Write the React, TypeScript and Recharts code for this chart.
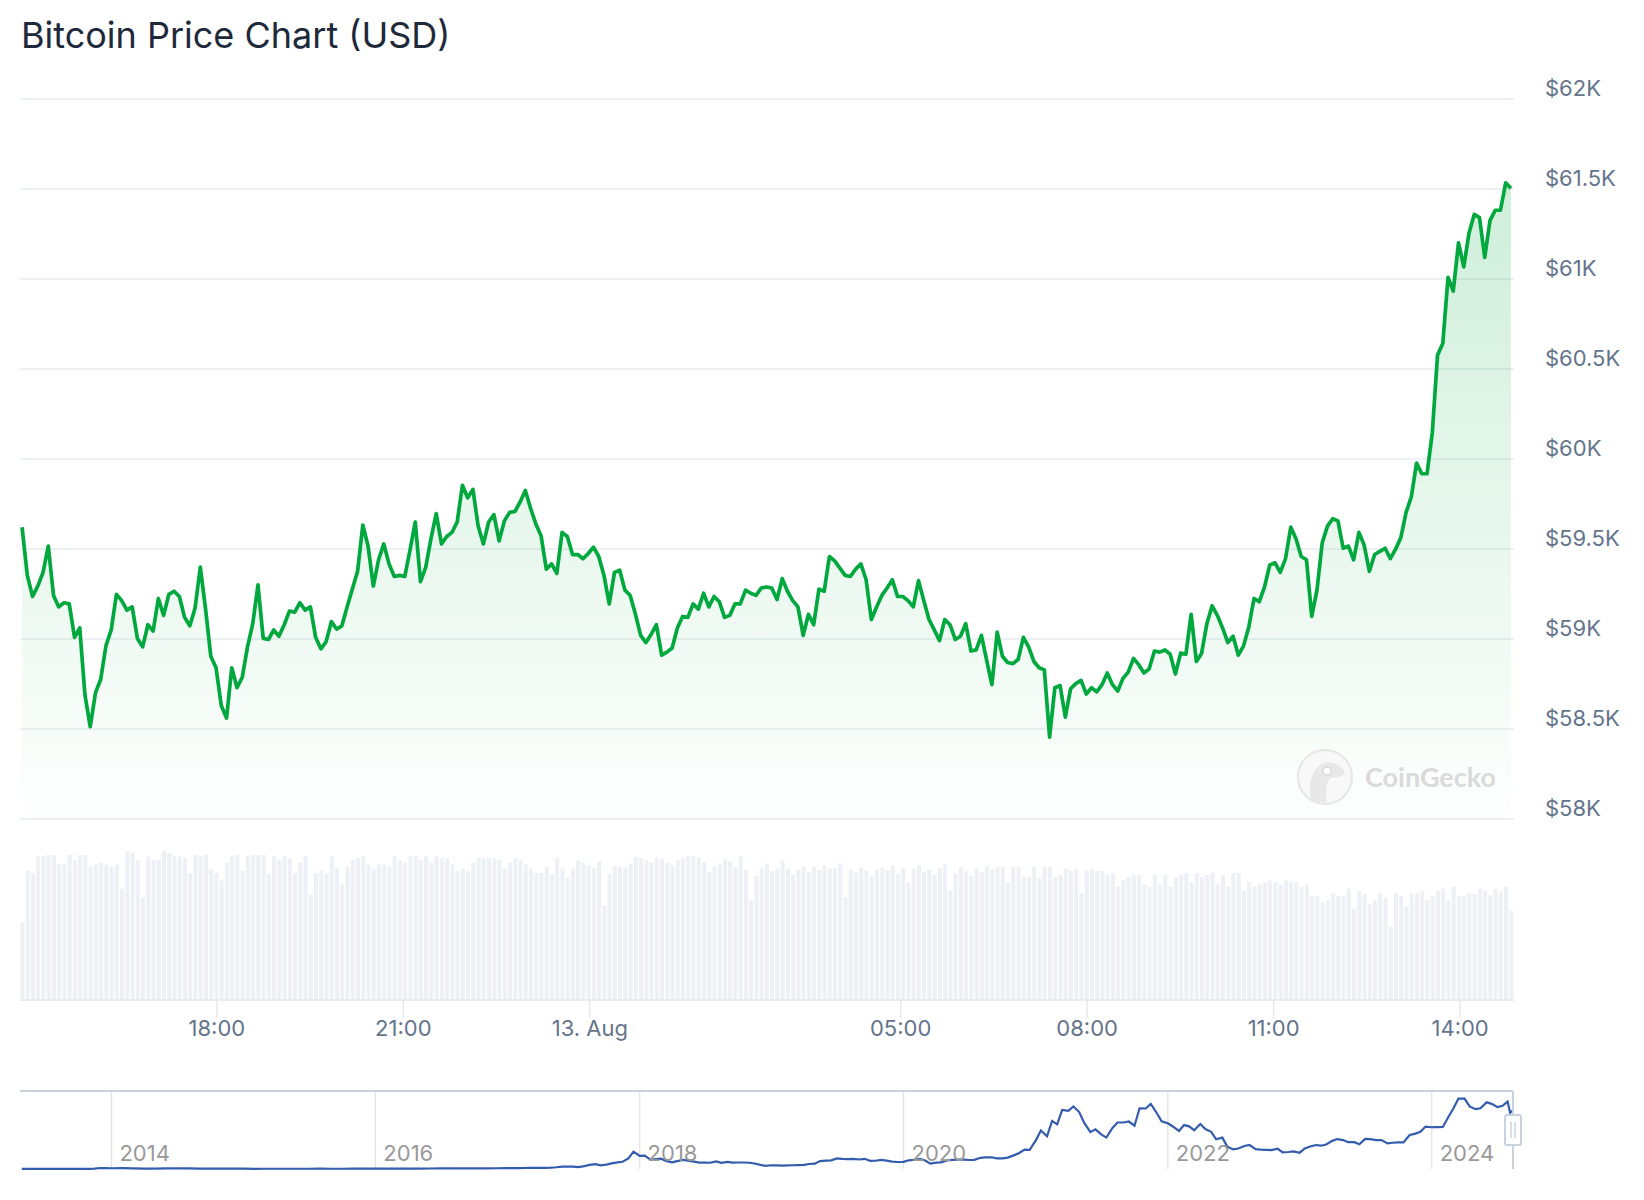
import React from "react";
import {
  Area,
  Bar,
  CartesianGrid,
  ComposedChart,
  Line,
  LineChart,
  ReferenceLine,
  XAxis,
  YAxis,
} from "recharts";

// 24h view, sampled every ~5 minutes starting 12 Aug 14:52 (minutes after 12 Aug 00:00)
const START_MIN = 892;
const STEP_MIN = 5.06;

const priceUsd = [
  59621, 59353, 59236, 59294, 59370, 59516, 59242, 59178, 59201, 59195,
  59009, 59061, 58688, 58513, 58700, 58776, 58962, 59050, 59248, 59213,
  59160, 59178, 59003, 58956, 59079, 59044, 59225, 59131, 59248, 59265,
  59236, 59120, 59073, 59172, 59399, 59166, 58904, 58840, 58630, 58560,
  58840, 58729, 58787, 58956, 59085, 59300, 59003, 58997, 59050, 59015,
  59079, 59155, 59149, 59201, 59160, 59178, 59009, 58945, 58985, 59096,
  59055, 59073, 59178, 59277, 59376, 59633, 59516, 59294, 59440, 59528,
  59417, 59347, 59353, 59347, 59493, 59650, 59318, 59399, 59557, 59697,
  59528, 59569, 59592, 59650, 59854, 59784, 59831, 59627, 59528, 59650,
  59691, 59545, 59656, 59703, 59708, 59761, 59825, 59726, 59639, 59574,
  59388, 59417, 59364, 59592, 59569, 59469, 59469, 59446, 59475, 59510,
  59458, 59353, 59195, 59370, 59382, 59271, 59242, 59137, 59020, 58980,
  59026, 59079, 58910, 58927, 58950, 59061, 59125, 59120, 59195, 59166,
  59254, 59178, 59236, 59207, 59120, 59131, 59195, 59195, 59271, 59254,
  59242, 59283, 59289, 59283, 59219, 59335, 59265, 59213, 59178, 59020,
  59137, 59079, 59277, 59265, 59458, 59434, 59394, 59353, 59347, 59388,
  59417, 59329, 59108, 59178, 59242, 59283, 59329, 59236, 59236, 59213,
  59178, 59324, 59213, 59108, 59050, 58991, 59108, 59079, 58997, 59015,
  59085, 58933, 58939, 59020, 58881, 58746, 59038, 58904, 58869, 58863,
  58886, 59009, 58956, 58875, 58840, 58828, 58455, 58729, 58741, 58566,
  58723, 58752, 58770, 58694, 58729, 58706, 58746, 58811, 58746, 58711,
  58781, 58816, 58892, 58857, 58811, 58834, 58933, 58927, 58939, 58915,
  58805, 58921, 58915, 59137, 58875, 58921, 59085, 59184, 59131, 59061,
  58980, 59015, 58910, 58962, 59067, 59225, 59207, 59289, 59411, 59423,
  59370, 59446, 59621, 59557, 59458, 59440, 59125, 59271, 59534, 59627,
  59668, 59656, 59504, 59516, 59440, 59592, 59522, 59376, 59469, 59487,
  59504, 59446, 59499, 59563, 59703, 59790, 59977, 59918, 59918, 60146,
  60577, 60641, 61009, 60933, 61201, 61067, 61254, 61359, 61341, 61120,
  61324, 61382, 61382, 61534, 61504,
];

// relative traded volume per sample
const volumeBars = [
  74, 123, 121, 137, 137, 138, 138, 129, 129, 138,
  133, 138, 138, 127, 129, 131, 129, 127, 129, 106,
  142, 140, 133, 97, 137, 133, 133, 142, 140, 137,
  137, 135, 121, 138, 137, 138, 125, 121, 114, 131,
  137, 138, 123, 137, 138, 138, 138, 120, 137, 133,
  137, 135, 121, 131, 137, 101, 121, 123, 121, 137,
  125, 110, 127, 133, 135, 137, 129, 125, 129, 129,
  127, 137, 133, 131, 137, 137, 133, 137, 131, 137,
  135, 135, 129, 123, 125, 123, 131, 135, 135, 135,
  135, 133, 125, 131, 135, 133, 129, 125, 121, 121,
  127, 120, 135, 125, 116, 125, 133, 131, 128, 126,
  132, 90, 120, 128,
  127, 126, 130, 136, 135, 133, 131, 135, 134, 131,
  128, 133, 135, 137, 137, 136, 131, 122, 127, 130,
  134, 132, 127, 137, 124, 95, 118, 126, 130, 123,
  125, 133, 125, 119, 124, 127, 122, 127, 124, 128,
  125, 126, 130, 98, 124, 121, 126, 123, 118, 124,
  126, 124, 128, 120, 126, 112, 125, 128, 122, 124,
  119, 126, 129, 104, 120, 127, 123, 118, 125, 122,
  127, 124,
  127, 127, 112, 127, 127, 117, 117, 127, 116, 127,
  127, 117, 119, 125, 123, 125, 102, 123, 125, 123,
  123, 119, 121, 108, 114, 117, 119, 119, 110, 108,
  119, 110, 119, 108, 117, 119, 121, 112, 121, 117,
  119, 121, 110, 119, 108, 121, 121, 104, 112, 108,
  110, 112, 114, 112, 110, 114, 112, 112, 108, 110,
  99, 99, 93, 95, 101, 99, 99, 106, 87, 104,
  101, 91, 95, 102, 97, 70, 102, 99, 89, 102,
  102, 104, 95, 99, 104, 106, 95, 108, 99, 99,
  102, 101, 106, 104, 100, 106, 103, 108, 85,
];

const priceTicks = [58000, 58500, 59000, 59500, 60000, 60500, 61000, 61500, 62000];
const timeTicks = [1080, 1260, 1440, 1740, 1920, 2100, 2280];
const timeLabels = ["18:00", "21:00", "13. Aug", "05:00", "08:00", "11:00", "14:00"];

// full history for the navigator
const navEarlyDates = [
  "2013-04-28", "2013-06-01", "2013-07-01", "2013-08-01", "2013-09-01", "2013-10-01",
  "2013-11-01", "2013-11-15", "2013-12-01", "2013-12-15",
  "2014-01-01", "2014-02-01", "2014-03-01", "2014-04-01", "2014-05-01", "2014-06-01",
  "2014-07-01", "2014-08-01", "2014-09-01", "2014-10-01", "2014-11-01", "2014-12-01",
  "2015-01-01", "2015-02-01", "2015-03-01", "2015-04-01", "2015-05-01", "2015-06-01",
  "2015-07-01", "2015-08-01", "2015-09-01", "2015-10-01", "2015-11-01", "2015-12-01",
  "2016-01-01", "2016-02-01", "2016-03-01", "2016-04-01", "2016-05-01", "2016-06-01",
  "2016-07-01", "2016-08-01", "2016-09-01", "2016-10-01", "2016-11-01", "2016-12-01",
];
const navEarlyPrices = [
  135, 128, 97, 105, 141, 133, 205, 430, 1000, 870,
  760, 830, 560, 470, 447, 630, 640, 590, 480, 390, 340, 380,
  320, 220, 255, 245, 235, 230, 260, 285, 230, 237, 315, 380,
  430, 370, 437, 416, 450, 530, 670, 625, 575, 610, 700, 745,
];
// 1st and 15th of every month, Jan 2017 - Jul 2024
const navSemiMonthlyPrices = [
  1000, 820, 970, 1010, 1190, 1250, 1080, 1180, 1420, 1750, 2400, 2450,
  2500, 1950, 2870, 4150, 4900, 3700, 4400, 5700, 6750, 7300, 10800, 17600,
  13400, 13600, 9200, 10100, 10400, 8200, 6800, 8000, 9200, 8500, 7500, 6500,
  6400, 6350, 7600, 6300, 7200, 6500, 6600, 6600, 6350, 5600, 4200, 3250,
  3800, 3600, 3450, 3600, 3800, 3900, 4100, 5050, 5350, 8000, 8550, 8800,
  10800, 10200, 10100, 10300, 9630, 10300, 8300, 8370, 9150, 8500, 7550, 7100,
  7200, 8800, 9350, 10300, 8600, 5400, 6400, 6650, 8800, 9300, 9500, 9450,
  9140, 9250, 11350, 11800, 11900, 10800, 10800, 11500, 13800, 16000, 19700, 19400,
  29000, 39000, 33100, 48700, 45200, 59800, 58800, 63300, 57700, 46700, 37300, 40100,
  35000, 31800, 41500, 47100, 47100, 48100, 43800, 61500, 61300, 66000, 57000, 48400,
  46300, 43100, 38500, 44500, 43200, 39300, 45500, 40500, 37700, 30100, 31800, 22500,
  19800, 20800, 23300, 24300, 20100, 19700, 19400, 19100, 20500, 16900, 17200, 17800,
  16500, 20900, 23100, 24300, 23600, 24800, 28500, 30300, 29300, 27200, 27200, 25000,
  30500, 30300, 29200, 29300, 25900, 26600, 27000, 27000, 34500, 35600, 37700, 43000,
  42300, 42500, 42600, 51900, 61200, 71400, 71300, 63400, 60600, 61500, 67500, 66000,
  62700, 64000,
];
const navTailDates = ["2024-07-29", "2024-08-05", "2024-08-13"];
const navTailPrices = [68300, 57000, 59400];
const navYearTicks = [2014, 2016, 2018, 2020, 2022, 2024];

const priceTable = priceUsd.map((price, i) => ({
  t: START_MIN + i * STEP_MIN,
  price,
  volume: volumeBars[i],
}));

const semiMonthlyDates = navSemiMonthlyPrices.map((_, i) => {
  const month = Math.floor(i / 2);
  return Date.UTC(2017 + Math.floor(month / 12), month % 12, i % 2 === 0 ? 1 : 15);
});

const navTable = [
  ...navEarlyDates.map((d, i) => ({ ts: Date.parse(d), price: navEarlyPrices[i] })),
  ...navSemiMonthlyPrices.map((p, i) => ({ ts: semiMonthlyDates[i], price: p })),
  ...navTailDates.map((d, i) => ({ ts: Date.parse(d), price: navTailPrices[i] })),
];
const navStart = Date.UTC(2013, 3, 23);
const navEnd = Date.UTC(2024, 7, 13);

const FONT = "Inter, 'Noto Sans', sans-serif";
const AXIS_TEXT = "#64748b";
const GREEN = "#00a83e";

const fmtPrice = (v: number) => `$${v / 1000}K`;

function PriceTick({ x, y, payload }: any) {
  return (
    <text x={x} y={y - 11} dominantBaseline="central" textAnchor="start" fill={AXIS_TEXT} fontSize={22}>
      {fmtPrice(payload.value)}
    </text>
  );
}

function NavHandle({ viewBox }: any) {
  const cx = viewBox.x;
  const cy = viewBox.y + viewBox.height / 2;
  return (
    <g>
      <rect x={cx - 8} y={cy - 15} width={16} height={30} rx={2} fill="#ffffff" stroke="#c9d3e0" strokeWidth={2} />
      <line x1={cx - 2} x2={cx - 2} y1={cy - 8} y2={cy + 8} stroke="#c9d3e0" strokeWidth={1.5} />
      <line x1={cx + 2} x2={cx + 2} y1={cy - 8} y2={cy + 8} stroke="#c9d3e0" strokeWidth={1.5} />
    </g>
  );
}

function Watermark() {
  return (
    <svg width={200} height={64} style={{ position: "absolute", left: 1295, top: 745, pointerEvents: "none" }}>
      <circle cx={30} cy={32} r={27} fill="#f7f8f7" stroke="#e6e6e6" strokeWidth={2} />
      <path d="M16 56 C13 40 16 22 30 18 C39 16 46 21 50 28 C47 33 40 32 36 33 C31 37 30 47 32 58 Z" fill="#e8e8e8" />
      <circle cx={32} cy={26} r={4} fill="#ffffff" stroke="#d8d8d8" strokeWidth={1.5} />
      <text x={70} y={42} fontFamily="Lato, 'Open Sans', sans-serif" fontWeight={700} fontSize={27} fill="#dadada">
        CoinGecko
      </text>
    </svg>
  );
}

export default function App() {
  return (
    <div style={{ position: "absolute", left: 0, top: 0, width: 1644, height: 1200, background: "#fff", fontFamily: FONT }}>
      <div style={{ position: "absolute", left: 21, top: 15, fontSize: 36, lineHeight: "40px", color: "#1e293b", whiteSpace: "nowrap" }}>
        Bitcoin Price Chart (USD)
      </div>

      <div style={{ position: "absolute", left: 0, top: 0 }}>
        <ComposedChart
          width={1644}
          height={1060}
          data={priceTable}
          margin={{ top: 99, right: 0, bottom: 10, left: 20 }}
          style={{ fontFamily: FONT }}
        >
          <defs>
            <linearGradient id="priceFill" x1="0" y1="0" x2="0" y2="1">
              <stop offset="0%" stopColor={GREEN} stopOpacity={0.32} />
              <stop offset="100%" stopColor={GREEN} stopOpacity={0.01} />
            </linearGradient>
          </defs>
          <CartesianGrid vertical={false} stroke="#edf0f4" strokeWidth={2} />
          <XAxis
            dataKey="t"
            type="number"
            domain={[890, 2332]}
            ticks={timeTicks}
            interval={0}
            allowDataOverflow
            tickFormatter={(v: number) => timeLabels[timeTicks.indexOf(v)]}
            height={50}
            tickSize={18}
            tickMargin={2}
            axisLine={{ stroke: "#e6e9ee", strokeWidth: 1.5 }}
            tickLine={{ stroke: "#e6e9ee", strokeWidth: 1.5 }}
            tick={{ fill: AXIS_TEXT, fontSize: 22 }}
          />
          <YAxis
            orientation="right"
            domain={[56994, 62000]}
            ticks={priceTicks}
            interval={0}
            allowDataOverflow
            width={130}
            tickSize={0}
            tickMargin={31}
            axisLine={false}
            tickLine={false}
            tick={<PriceTick />}
          />
          <YAxis yAxisId="vol" hide domain={[0, 858]} />
          <Bar yAxisId="vol" dataKey="volume" fill="#edf0f4" barSize={4} isAnimationActive={false} />
          <Area
            type="linear"
            dataKey="price"
            stroke={GREEN}
            strokeWidth={3.7}
            strokeLinejoin="round"
            fill="url(#priceFill)"
            baseValue={58000}
            dot={false}
            activeDot={false}
            isAnimationActive={false}
          />
        </ComposedChart>
      </div>

      <Watermark />

      <div style={{ position: "absolute", left: 0, top: 1080 }}>
        <LineChart
          width={1644}
          height={120}
          data={navTable}
          margin={{ top: 11, right: 131, bottom: 31, left: 20 }}
          style={{ fontFamily: FONT }}
        >
          <XAxis dataKey="ts" type="number" domain={[navStart, navEnd]} hide />
          <YAxis domain={[0, 79000]} hide />
          {navYearTicks.map((year) => (
            <ReferenceLine
              key={year}
              x={Date.UTC(year, 0, 1)}
              stroke="#e6e6e6"
              strokeWidth={1.5}
              label={{ value: String(year), position: "insideBottomLeft", offset: 8, fill: "#999999", fontSize: 22 }}
            />
          ))}
          <Line type="linear" dataKey="price" stroke="#335cad" strokeWidth={2.2} dot={false} isAnimationActive={false} />
          <ReferenceLine y={79000} stroke="#c9d3e0" strokeWidth={2} />
          <ReferenceLine x={navEnd} stroke="#c9d3e0" strokeWidth={2} label={<NavHandle />} />
        </LineChart>
      </div>
    </div>
  );
}
